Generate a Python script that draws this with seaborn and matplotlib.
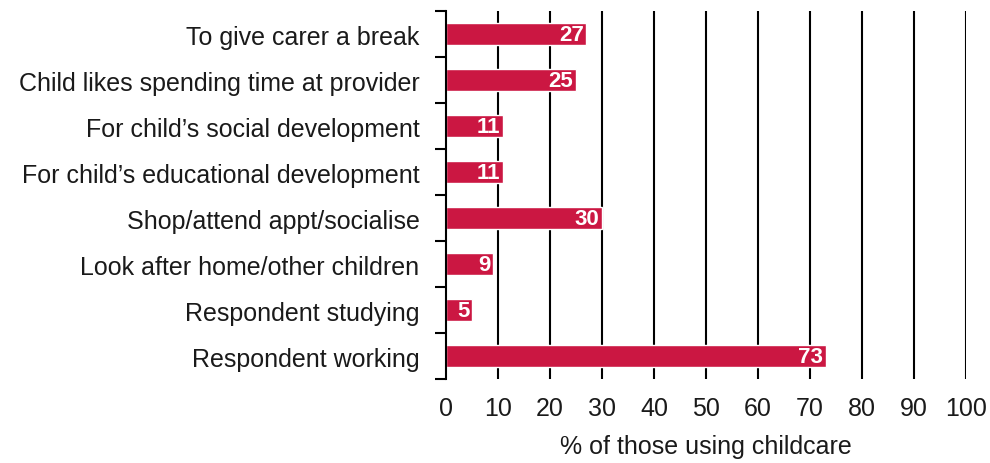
import numpy as np
import pandas as pd
import seaborn as sns
from matplotlib import pyplot as plt
from matplotlib.ticker import FixedLocator

reasons = [
    'To give carer a break',
    'Child likes spending time at provider',
    'For child\u2019s social development',
    'For child\u2019s educational development',
    'Shop/attend appt/socialise',
    'Look after home/other children',
    'Respondent studying',
    'Respondent working',
]
percent = [27, 25, 11, 11, 30, 9, 5, 73]
x_ticks = [0, 10, 20, 30, 40, 50, 60, 70, 80, 90, 100]

bar_colour = '#CB1742'
text_colour = '#1a1a1a'
fs = 18

sns.set_style('white')
plt.rcParams['font.family'] = ['Liberation Sans', 'DejaVu Sans']

df = pd.DataFrame({'reason': reasons, 'percent': percent})

fig = plt.figure(figsize=(9.9, 4.64), dpi=100)
ax = fig.add_axes([0.4505, 0.181, 0.5253, 0.793])

ax.set_xlim(0, 100)
for t in x_ticks[1:]:
  ax.axvline(t, color='black', lw=1.5, zorder=0)

sns.barplot(data=df, x='percent', y='reason', orient='h', color=bar_colour,
            saturation=1, width=0.48, ax=ax, zorder=2)

ax.set_ylim(len(reasons) - 0.5, -0.5)
for i, v in enumerate(percent):
  ax.text(v - 0.5, i + 0.02, str(v), ha='right', va='center', color='white',
          fontsize=16, fontweight='bold', zorder=3)

ax.set_xticks(x_ticks)
ax.tick_params(axis='x', length=0, labelsize=fs, pad=12, colors=text_colour)
ax.set_xlabel('% of those using childcare', fontsize=fs, labelpad=10,
              color=text_colour)
ax.set_ylabel('')

ax.yaxis.set_minor_locator(FixedLocator(np.arange(-0.5, len(reasons), 1)))
ax.tick_params(axis='y', which='major', length=0, labelsize=fs, pad=19,
               colors=text_colour)
ax.tick_params(axis='y', which='minor', length=8, width=1.5, color='black',
               direction='out', left=True)

for s in ['top', 'right', 'bottom']:
  ax.spines[s].set_visible(False)
ax.spines['left'].set_color('black')
ax.spines['left'].set_linewidth(1.5)

fig.savefig('out.png', dpi=100)
